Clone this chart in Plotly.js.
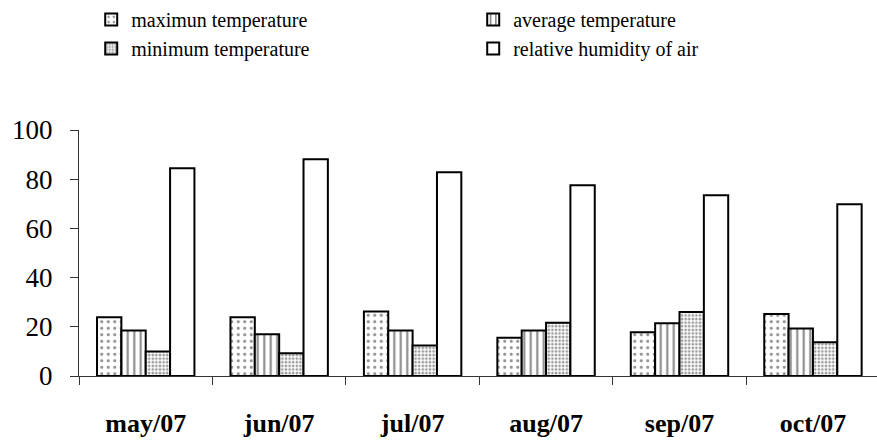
<!DOCTYPE html>
<html>
<head>
<meta charset="utf-8">
<script src="https://cdn.plot.ly/plotly-3.0.1.min.js"></script>
<style>html,body{margin:0;padding:0;background:#fff;}#chart{width:877px;height:441px;}</style>
</head>
<body>
<div id="chart"></div>
<script>
const months = ['may/07', 'jun/07', 'jul/07', 'aug/07', 'sep/07', 'oct/07'];
const maxTemp = [23.9, 23.9, 26.2, 15.5, 17.8, 25.2];
const avgTemp = [18.5, 17.0, 18.5, 18.5, 21.4, 19.3];
const minTemp = [10.0, 9.2, 12.4, 21.6, 26.0, 13.7];
const humidity = [84.5, 88.1, 82.8, 77.5, 73.5, 69.8];
const seriesNames = ['maximun temperature', 'average temperature', 'minimum temperature', 'relative humidity of air'];
const yTicks = [0, 20, 40, 60, 80, 100];

const SERIF = 'Liberation Serif';
const line = {color: '#000', width: 2};
const traces = [
  {type: 'bar', name: seriesNames[0], x: months, y: maxTemp,
   marker: {color: '#fff', line: line, pattern: {shape: '.', size: 6.5, solidity: 0.18, fgcolor: '#222', bgcolor: '#fff', fillmode: 'overlay'}}},
  {type: 'bar', name: seriesNames[1], x: months, y: avgTemp,
   marker: {color: '#fff', line: line, pattern: {shape: '|', size: 6.5, solidity: 0.32, fgcolor: '#111', bgcolor: '#fff', fillmode: 'overlay'}}},
  {type: 'bar', name: seriesNames[2], x: months, y: minTemp,
   marker: {color: '#fff', line: line, pattern: {shape: '.', size: 3.6, solidity: 0.45, fgcolor: '#333', bgcolor: '#fff', fillmode: 'overlay'}}},
  {type: 'bar', name: seriesNames[3], x: months, y: humidity,
   marker: {color: '#fff', line: line}}
];

const layout = {
  width: 877, height: 441,
  margin: {l: 79, r: 0, t: 130, b: 65},
  paper_bgcolor: '#fff', plot_bgcolor: '#fff',
  barmode: 'group', bargap: 0.27, bargroupgap: 0,
  font: {family: SERIF, color: '#000'},
  showlegend: true,
  legend: {
    orientation: 'h', xref: 'container', yref: 'container',
    x: 0.104, xanchor: 'left', y: 1, yanchor: 'top',
    font: {size: 20, family: SERIF, color: '#000'},
    entrywidth: 337, entrywidthmode: 'pixels',
    traceorder: 'normal', bgcolor: 'rgba(0,0,0,0)'
  },
  xaxis: {
    type: 'category', range: [-0.5, 5.48], tickson: 'boundaries',
    ticks: 'outside', ticklen: 8, tickwidth: 1, tickcolor: '#333',
    showline: true, linecolor: '#333', linewidth: 1,
    showgrid: false, zeroline: false, tickangle: 0,
    tickfont: {size: 26, family: SERIF, weight: 'bold', color: '#000'},
    ticklabelstandoff: 24
  },
  yaxis: {
    range: [0, 100], tickvals: yTicks, ticktext: yTicks.map(String),
    ticks: 'outside', ticklen: 8, tickwidth: 1, tickcolor: '#333',
    showline: true, linecolor: '#333', linewidth: 1,
    showgrid: false, zeroline: false,
    tickfont: {size: 27, family: SERIF, color: '#000'},
    ticklabelstandoff: 12
  }
};

Plotly.newPlot('chart', traces, layout, {displayModeBar: false, staticPlot: true});
</script>
</body>
</html>
